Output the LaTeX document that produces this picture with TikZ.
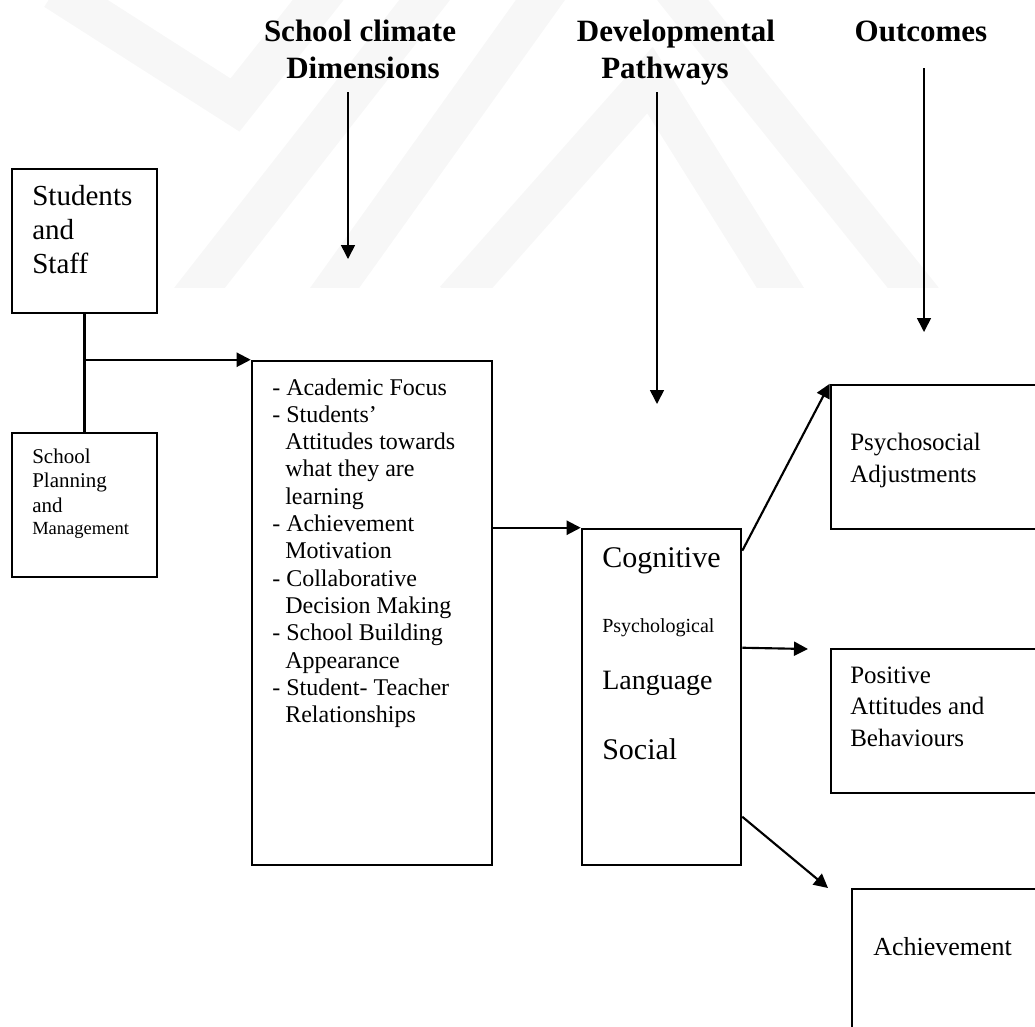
\documentclass[tikz,border=0pt]{standalone}
\usepackage{fontspec}
\setmainfont{Liberation Serif}
\usetikzlibrary{arrows.meta,fit,calc}
\begin{document}
\begin{tikzpicture}[x=0.75pt,y=-0.75pt,
  box/.style={draw, line width=1.9pt, inner sep=0pt},
  conn/.style={line width=1.6pt, -{Triangle[length=10.5pt,width=10.5pt]}},
  plain/.style={line width=1.6pt},
  tarrow/.style={line width=1.2pt, -{Triangle[length=10.5pt,width=10.5pt]}},
  ttl/.style={anchor=base, inner sep=0pt, font=\bfseries\fontsize{23.25pt}{26pt}\selectfont},
  txt/.style={anchor=base west, inner sep=0pt},
  wm/.style={draw=gray!6, line width=30pt, line join=miter}
]
\useasboundingbox (0,0) rectangle (1035,1026);
\clip (0,0) rectangle (1035,1026);
% watermark
\begin{scope}
  \clip (0,0) rectangle (1035,287);
  \draw[wm] (55,-10) -- (235,105) -- (330,-15);
  \draw[wm] (190,300) -- (434,-12);
  \draw[wm] (326,300) -- (549,-12);
  \draw[wm] (455,300) -- (650,80) -- (788,300);
  \draw[wm] (673,-12) -- (923,300);
\end{scope}
% titles
\node[ttl] (t1a) at (360,41) {School climate};
\node[ttl] (t1b) at (363,78) {Dimensions};
\node[ttl] (t2a) at (676,41) {Developmental};
\node[ttl] (t2b) at (665,78) {Pathways};
\node[ttl] (t3) at (921,41) {Outcomes};
\coordinate (a1s) at (348,92);  \coordinate (a1e) at (348,259);
\coordinate (a2s) at (657,92);  \coordinate (a2e) at (657,404);
\coordinate (a3s) at (924,68);  \coordinate (a3e) at (924,332);
\draw[tarrow] (a1s) -- (a1e);
\draw[tarrow] (a2s) -- (a2e);
\draw[tarrow] (a3s) -- (a3e);
% box corners
\coordinate (c1a) at (12,169);  \coordinate (c1b) at (157,313);
\coordinate (c2a) at (12,433);  \coordinate (c2b) at (157,577);
\coordinate (c3a) at (252,361); \coordinate (c3b) at (492,865);
\coordinate (c4a) at (582,529); \coordinate (c4b) at (741,865);
\coordinate (c5a) at (831,385); \coordinate (c5b) at (1050,529);
\coordinate (c6a) at (831,649); \coordinate (c6b) at (1050,793);
\coordinate (c7a) at (852,889); \coordinate (c7b) at (1050,1045);
\node[box, fit=(c1a)(c1b)] (ss) {};
\node[box, fit=(c2a)(c2b)] (spm) {};
\node[box, fit=(c3a)(c3b)] (dim) {};
\node[box, fit=(c4a)(c4b)] (pw) {};
\node[box, fit=(c5a)(c5b)] (ps) {};
\node[box, fit=(c6a)(c6b)] (pos) {};
\node[box, fit=(c7a)(c7b)] (ach) {};
% box texts
\begin{scope}[every node/.append style={font=\fontsize{21.8pt}{25pt}\selectfont}]
\node[txt] (s1) at (32,205) {Students};
\node[txt] (s2) at (32,239) {and};
\node[txt] (s3) at (32,273) {Staff};
\end{scope}
\begin{scope}[every node/.append style={font=\fontsize{15.75pt}{18pt}\selectfont}]
\node[txt] (p1) at (32,463) {School};
\node[txt] (p2) at (32,487) {Planning};
\node[txt] (p3) at (32,512) {and};
\node[txt, font=\fontsize{13.9pt}{16pt}\selectfont] (p4) at (32,534) {Management};
\end{scope}
\begin{scope}[every node/.append style={font=\fontsize{18pt}{20pt}\selectfont}]
\node[txt] (d1) at (272,395) {- Academic Focus};
\node[txt] (d2) at (272,422.3) {- Students’};
\node[txt] (d3) at (285,449.6) {Attitudes towards};
\node[txt] (d4) at (285,476.9) {what they are};
\node[txt] (d5) at (285,504.2) {learning};
\node[txt] (d6) at (272,531.5) {- Achievement};
\node[txt] (d7) at (285,558.8) {Motivation};
\node[txt] (d8) at (272,586.1) {- Collaborative};
\node[txt] (d9) at (285,613.4) {Decision Making};
\node[txt] (d10) at (272,640.7) {- School Building};
\node[txt] (d11) at (285,668) {Appearance};
\node[txt] (d12) at (272,695.3) {- Student- Teacher};
\node[txt] (d13) at (285,722.6) {Relationships};
\end{scope}
\node[txt, font=\fontsize{22.5pt}{25pt}\selectfont] (g1) at (602,567) {Cognitive};
\node[txt, font=\fontsize{15pt}{18pt}\selectfont] (g2) at (602,632) {Psychological};
\node[txt, font=\fontsize{21pt}{24pt}\selectfont] (g3) at (602,689) {Language};
\node[txt, font=\fontsize{22.5pt}{25pt}\selectfont] (g4) at (602,759) {Social};
\begin{scope}[every node/.append style={font=\fontsize{18.75pt}{22pt}\selectfont}]
\node[txt] (o1) at (850,450) {Psychosocial};
\node[txt] (o2) at (850,482) {Adjustments};
\node[txt] (o3) at (850,683) {Positive};
\node[txt] (o4) at (850,714) {Attitudes and};
\node[txt] (o5) at (850,746) {Behaviours};
\node[txt, font=\fontsize{19.5pt}{22pt}\selectfont] (o6) at (873,955) {Achievement};
\end{scope}
% connectors
\draw[plain] (ss.south) -- (spm.north);
\draw[conn] (ss.south |- dim.north west) -- (dim.north west);
\draw[conn] (dim.east |- pw.north west) -- (pw.north west);
\draw[conn] ($(pw.north east)+(0,23)$) -- (ps.north west);
\coordinate (t6) at (808,649);
\draw[conn] (pw.east |- pos.north west) -- (t6);
\coordinate (t7) at (828,888);
\draw[conn] ($(pw.north east)+(0,289)$) -- (t7);
\end{tikzpicture}
\end{document}
